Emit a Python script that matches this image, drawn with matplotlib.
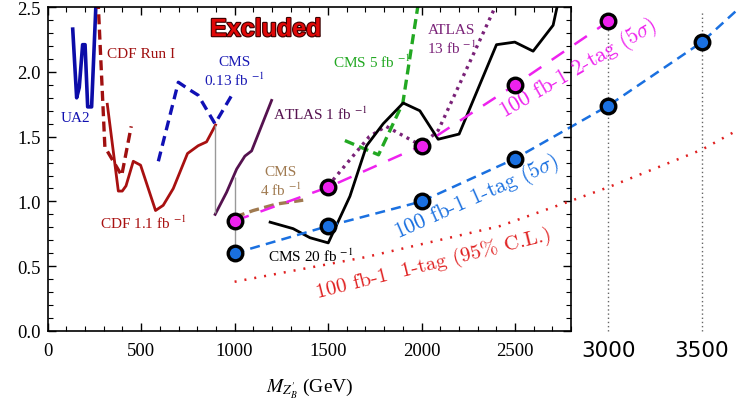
import matplotlib
matplotlib.use('Agg')
import matplotlib.pyplot as plt
import matplotlib.patheffects as pe
from matplotlib.ticker import MultipleLocator

plt.rcParams['font.family'] = ['Liberation Serif', 'DejaVu Serif']
plt.rcParams['mathtext.fontset'] = 'stix'

# %%
# Existing limits (mass in GeV, coupling g_B)
ua2_m = [134, 155, 169, 187, 200, 214, 235, 262]
ua2_g = [2.33, 1.80, 1.88, 2.21, 2.21, 1.73, 1.73, 2.65]

cdf_run1_m = [268, 306, 396, 447]
cdf_run1_g = [2.60, 1.42, 1.20, 1.58]

cdf11_m = [319, 378, 399, 419, 458, 497, 577, 618, 672, 748, 805, 850, 898]
cdf11_g = [1.75, 1.08, 1.08, 1.12, 1.31, 1.28, 0.93, 0.97, 1.10, 1.37, 1.43, 1.46, 1.59]

cms013_m = [592, 699, 761, 805, 895, 993]
cms013_g = [1.31, 1.92, 1.86, 1.82, 1.60, 1.84]

atlas1_m = [896, 957, 1011, 1055, 1091, 1198]
atlas1_g = [0.90, 1.07, 1.25, 1.35, 1.39, 1.78]

cms4_m = [1002, 1100, 1225, 1367]
cms4_g = [0.88, 0.93, 0.98, 1.01]

cms5_m = [1590, 1770, 1900, 1985]
cms5_g = [1.47, 1.36, 1.76, 2.55]

atlas13_m = [1500, 1720, 1810, 2000, 2090, 2400]
atlas13_g = [1.12, 1.50, 1.58, 1.43, 1.55, 2.52]

cms20_m = [1190, 1313, 1403, 1501, 1617, 1706, 1795, 1902, 1991, 2089, 2201, 2401, 2499, 2597, 2704, 2740]
cms20_g = [0.84, 0.79, 0.72, 0.68, 1.04, 1.43, 1.60, 1.76, 1.70, 1.48, 1.52, 2.21, 2.23, 2.16, 2.36, 2.60]

# gray connectors between limits
conn_m = [895, 1000]
conn_lo = [0.91, 0.60]
conn_hi = [1.59, 1.19]

# Projections, 100 fb-1
tag2_m = [1000, 1500, 2000, 2500, 3000]
tag2_g = [0.85, 1.11, 1.43, 1.90, 2.39]
tag2_line_m = [1000, 1500, 2000, 2500, 3000, 3040]
tag2_line_g = [0.85, 1.11, 1.43, 1.90, 2.39, 2.43]

tag1_m = [1000, 1500, 2000, 2500, 3000, 3500]
tag1_g = [0.60, 0.81, 1.00, 1.33, 1.74, 2.23]
tag1_line_m = [1000, 1500, 2000, 2500, 3000, 3500, 3690]
tag1_line_g = [0.60, 0.81, 1.00, 1.33, 1.74, 2.23, 2.48]

cl95_m = [1000, 1700, 2420, 2800, 3000, 3500, 3690]
cl95_g = [0.38, 0.57, 0.81, 1.005, 1.11, 1.40, 1.55]

x_ticks = [0, 500, 1000, 1500, 2000, 2500]
y_ticks = [0.0, 0.5, 1.0, 1.5, 2.0, 2.5]
extra_ticks = [3000, 3500]

# %%
fig = plt.figure(figsize=(7.38, 4.06), dpi=100)
ax = fig.add_axes([0.0646, 0.1823, 0.7092, 0.7977])

ax.plot(ua2_m, ua2_g, color='#0c0ca8', lw=2.6)
ax.plot(cdf_run1_m, cdf_run1_g, color='#a01010', lw=2.4, ls=(0, (3, 1.6)))
ax.plot(cdf11_m, cdf11_g, color='#a81010', lw=2.0)
ax.plot(cms013_m, cms013_g, color='#1010b4', lw=2.4, ls=(0, (3, 1.8)))
ax.plot(atlas1_m, atlas1_g, color='#55124f', lw=2.0)
ax.plot(cms4_m, cms4_g, color='#a07a50', lw=2.4, ls=(0, (3, 1.6)))
ax.plot(cms5_m, cms5_g, color='#22a822', lw=2.4, ls=(0, (3, 1.6)))
ax.plot(atlas13_m, atlas13_g, color='#7a2278', lw=2.4, ls=(0, (0.9, 1.4)))
ax.plot(cms20_m, cms20_g, color='black', lw=2.0)
ax.vlines(conn_m, conn_lo, conn_hi, color='#999999', lw=1.0)

ax.plot(tag2_line_m, tag2_line_g, color='#ee22ee', lw=1.8, ls=(0, (6, 5)), clip_on=False)
ax.plot(tag1_line_m, tag1_line_g, color='#1a70e0', lw=1.8, ls=(0, (4, 2.5)), clip_on=False)
ax.plot(cl95_m, cl95_g, color='#e02020', lw=1.8, ls=(0, (0.8, 3.2)), clip_on=False)

for xm in extra_ticks:
    ax.plot([xm, xm], [0, 2.47], color='#666666', lw=1.0, ls=(0, (1, 2)), clip_on=False)

ax.plot(tag2_m, tag2_g, 'o', ms=10.5, mfc='#ee22ee', mec='black', mew=2.4, clip_on=False, zorder=5)
ax.plot(tag1_m, tag1_g, 'o', ms=10.5, mfc='#1a70e0', mec='black', mew=2.4, clip_on=False, zorder=5)

ax.set_xlim(0, 2800)
ax.set_ylim(0, 2.5)

# ticks
ax.set_xticks(x_ticks)
ax.set_xticklabels([str(v) for v in x_ticks])
ax.set_yticks(y_ticks)
ax.set_yticklabels(['%.1f' % v for v in y_ticks])
ax.xaxis.set_minor_locator(MultipleLocator(100))
ax.yaxis.set_minor_locator(MultipleLocator(0.1))
ax.tick_params(which='both', direction='in', top=True, right=True, labelsize=13.5)
ax.tick_params(which='major', length=6, width=1.0)
ax.tick_params(which='minor', length=3.5, width=0.8)
ax.tick_params(axis='x', pad=8)
ax.tick_params(axis='y', pad=5)
for s in ax.spines.values():
    s.set_linewidth(1.2)

for xm in extra_ticks:
    ax.text(xm, -0.19, str(xm), fontsize=15.5, family='DejaVu Sans',
            ha='center', va='baseline', clip_on=False)

ax.set_xlabel(r'$M_{Z^{\prime}_{B}}$ (GeV)', fontsize=14, labelpad=12)

# labels
ax.text(1167, 2.33, 'Excluded', fontsize=18, family='Liberation Sans', weight='bold',
        color='#e00808', ha='center', va='center',
        path_effects=[pe.withStroke(linewidth=1.6, foreground='#3a0000')])
ax.text(318, 2.145, 'CDF Run I', fontsize=11, color='#a01010', va='center')
ax.text(151, 1.65, 'UA2', fontsize=11, color='#1010b0', ha='center', va='center')
ax.text(997, 2.00, 'CMS\n0.13 fb $^{-1}$', fontsize=11, color='#1a1ab4', ha='center', va='center')
ax.text(1205, 1.68, 'ATLAS 1 fb $^{-1}$', fontsize=11, color='#55124f', va='center')
ax.text(1248, 1.157, 'CMS\n4 fb $^{-1}$', fontsize=11, color='#a07a50', ha='center', va='center')
ax.text(280, 0.84, 'CDF 1.1 fb $^{-1}$', fontsize=11, color='#a81010', va='center')
ax.text(1178, 0.58, 'CMS 20 fb $^{-1}$', fontsize=11, color='black', va='center')
ax.text(1526, 2.08, 'CMS 5 fb $^{-1}$', fontsize=11, color='#22a822', va='center')
ax.text(2163, 2.25, 'ATLAS\n13 fb $^{-1}$', fontsize=11, color='#7a2278', ha='center', va='center')

ax.text(2836, 2.03, r'100 fb-1 2-tag (5$\sigma$)', fontsize=15.5, family='cmr10',
        math_fontfamily='cm', color='#ee22ee', rotation=30, rotation_mode='anchor',
        ha='center', va='center')
ax.text(2296, 1.04, r'100 fb-1 1-tag (5$\sigma$)', fontsize=15.5, family='cmr10',
        math_fontfamily='cm', color='#1a70e0', rotation=24, rotation_mode='anchor',
        ha='center', va='center')
ax.text(2066, 0.525, '100 fb-1  1-tag (95% C.L.)', fontsize=15, family='cmr10',
        color='#e02020', rotation=14, rotation_mode='anchor', ha='center', va='center')

fig.savefig('out.png', dpi=100)
